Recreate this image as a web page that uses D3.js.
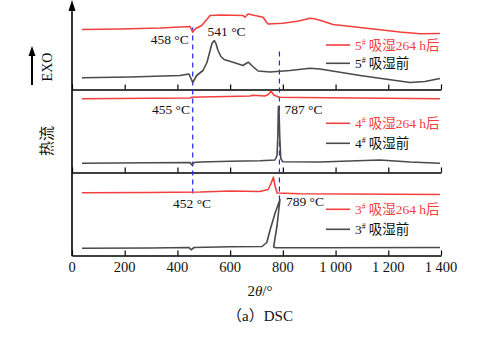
<!DOCTYPE html>
<html><head><meta charset="utf-8">
<script src="https://cdn.jsdelivr.net/npm/d3@7"></script>
<style>
body{margin:0;background:#fff;}
text{font-family:"Liberation Serif","Times New Roman","Noto Sans CJK SC",serif;fill:#111;}
</style></head>
<body><svg id="c" width="499" height="350"></svg>
<script>
// ---- data (temperature °C, heat flow arbitrary units) ----
const xTicks = [0,200,400,600,800,1000,1200,1400];
const xTickLabels = ["0","200","400","600","800","1 000","1 200","1 400"];
const panelBases = [0, 83, 166];   // heat-flow offsets of the three stacked panels

const s5after = [[38,226],[182,226.5],[334,227.5],[448,229],[458,223.3],[470,227],[492,230],[505,234],[524,240],[562,240.5],[649,240],[656,238.3],[668,241.5],[694,240],[725,238.3],[736,234],[744,231.5],[800,232.3],[860,234.5],[903,237.3],[920,236.8],[950,234.5],[990,231],[1093,228],[1244,223.5],[1320,221.7],[1396,222]];
const s5before = [[38,177.7],[220,178.5],[410,180],[444,181.5],[458,173],[473,180],[497,185],[512,193],[524,205],[531,212],[540,215],[546,212],[554,205],[565,199],[577,196],[611,193.3],[649,190],[660,192],[669,193.3],[682,190],[706,184.5],[751,183.5],[827,185],[903,187.3],[941,186.5],[1093,180],[1282,173],[1339,174],[1396,177]];
const s4after = [[38,156.7],[296,157.2],[448,157.5],[455,158.2],[486,158.5],[637,159.2],[675,159.5],[687,160.3],[732,159.5],[744,161],[755,164.3],[766,160.5],[785,158.3],[865,158],[1396,156.7]];
const s4before = [[38,92.3],[296,92.7],[448,93],[455,90.5],[463,93],[486,93.5],[600,94.3],[713,94.7],[770,95.5],[778,100],[781,120],[783,148.7],[785,149],[788,120],[792,97],[800,93.7],[941,93.5],[1169,95.5],[1282,93.5],[1396,92.3]];
const s3after = [[38,62.7],[296,63],[486,63.5],[600,64.5],[713,64],[744,66],[755,72],[764,78.3],[770,70],[778,62.5],[865,61.7],[1396,61]];
const s3before = [[38,7.3],[296,7.5],[444,8],[452,5.7],[463,8],[600,8.7],[721,9],[739,13],[751,25],[770,42],[789,56],[778,30],[765,8.5],[774,7.7],[941,7.7],[1396,8]];

const dashLines = [{t:458, y0:62, y1:228},{t:787, y0:55, y1:207}];
const annotations = [
  {t:458, v:212, text:"458 °C", anchor:"end", dx:-4},
  {t:541, v:220, text:"541 °C", anchor:"middle", dx:12},
  {t:455, v:142, text:"455 °C", anchor:"end", dx:-2},
  {t:787, v:142, text:"787 °C", anchor:"start", dx:5},
  {t:452, v:48, text:"452 °C", anchor:"end", dx:20},
  {t:789, v:50, text:"789 °C", anchor:"start", dx:6}
];
const legendLabels = [
  {num:"5", after:"吸湿264 h后", before:"吸湿前", yr:45, yb:63.3},
  {num:"4", after:"吸湿264 h后", before:"吸湿前", yr:123.3, yb:143.3},
  {num:"3", after:"吸湿264 h后", before:"吸湿前", yr:209.3, yb:229.3}
];

const RED = "#f2403f", GRAY = "#4a4a4a", BLUE = "#2323ff";

const svg = d3.select("#c");
const x = d3.scaleLinear().domain([0,1400]).range([72,441]);
const y = d3.scaleLinear().domain([0,250]).range([255.5,5.5]);

// panel axes (bottom + separators), ticks pointing up
panelBases.forEach(b=>{
  const g = svg.append("g").attr("transform",`translate(0,${y(b)})`);
  const ax = d3.axisBottom(x).tickValues(xTicks).tickSizeInner(-5).tickSizeOuter(0).tickFormat("");
  g.call(ax);
  g.select(".domain").attr("stroke","#000").attr("stroke-width",1.6);
  g.selectAll(".tick line").attr("stroke","#000").attr("stroke-width",1.2);
});
// tick labels
svg.append("g").selectAll("text").data(xTicks).join("text")
  .attr("x",d=>x(d)).attr("y",272).attr("text-anchor","middle")
  .style("font-size","14.5px").text((d,i)=>xTickLabels[i]);

// y axis with arrow
svg.append("line").attr("x1",x(0)).attr("x2",x(0)).attr("y1",y(0)+0.8).attr("y2",9)
  .attr("stroke","#000").attr("stroke-width",1.6);
svg.append("path").attr("d",`M${x(0)},0 L${x(0)-3.5},11 L${x(0)+3.5},11 Z`).attr("fill","#000");

// EXO arrow
svg.append("line").attr("x1",32).attr("x2",32).attr("y1",85).attr("y2",54).attr("stroke","#000").attr("stroke-width",2);
svg.append("path").attr("d","M32,46 L28.5,56 L35.5,56 Z").attr("fill","#000");
svg.append("text").attr("transform","translate(52,67) rotate(-90)").attr("text-anchor","middle")
  .style("font-size","14px").text("EXO");
svg.append("text").attr("transform","translate(52,141) rotate(-90)").attr("text-anchor","middle")
  .style("font-size","15px").text("热流");

// dashed lines
svg.append("g").selectAll("line").data(dashLines).join("line")
  .attr("x1",d=>x(d.t)).attr("x2",d=>x(d.t)).attr("y1",d=>y(d.y0)).attr("y2",d=>y(d.y1))
  .attr("stroke",BLUE).attr("stroke-width",1.2).attr("stroke-dasharray","5,4");

// curves
const line = d3.line().x(d=>x(d[0])).y(d=>y(d[1])).curve(d3.curveLinear);
[[s5after,RED],[s5before,GRAY],[s4after,RED],[s4before,GRAY],[s3after,RED],[s3before,GRAY]].forEach(([d,c])=>{
  svg.append("path").datum(d).attr("d",line).attr("fill","none").attr("stroke",c)
    .attr("stroke-width",1.6).attr("stroke-linejoin","round");
});

// annotations
svg.append("g").selectAll("text").data(annotations).join("text")
  .attr("x",d=>x(d.t)+d.dx).attr("y",d=>y(d.v)).attr("text-anchor",d=>d.anchor)
  .style("font-size","13.5px").text(d=>d.text);

// legends
legendLabels.forEach(L=>{
  [[L.yr,RED,L.after],[L.yb,GRAY,L.before]].forEach(([yy,c,lab])=>{
    svg.append("line").attr("x1",326).attr("x2",350).attr("y1",yy).attr("y2",yy).attr("stroke",c).attr("stroke-width",1.6);
    const t = svg.append("text").attr("x",355).attr("y",yy+4.8).style("font-size","13.5px")
      .style("fill", c===RED?RED:"#111");
    t.append("tspan").text(L.num);
    t.append("tspan").attr("dy",-5).style("font-size","8px").text("#");
    t.append("tspan").attr("dy",5).attr("dx",3).text(lab);
  });
});

// axis titles
const xt = svg.append("text").attr("x",260).attr("y",296).attr("text-anchor","middle").style("font-size","15px");
xt.append("tspan").text("2");
xt.append("tspan").style("font-style","italic").text("θ");
xt.append("tspan").text("/°");
svg.append("text").attr("x",260).attr("y",321).attr("text-anchor","middle").style("font-size","15px").text("（a）DSC");
</script></body></html>
